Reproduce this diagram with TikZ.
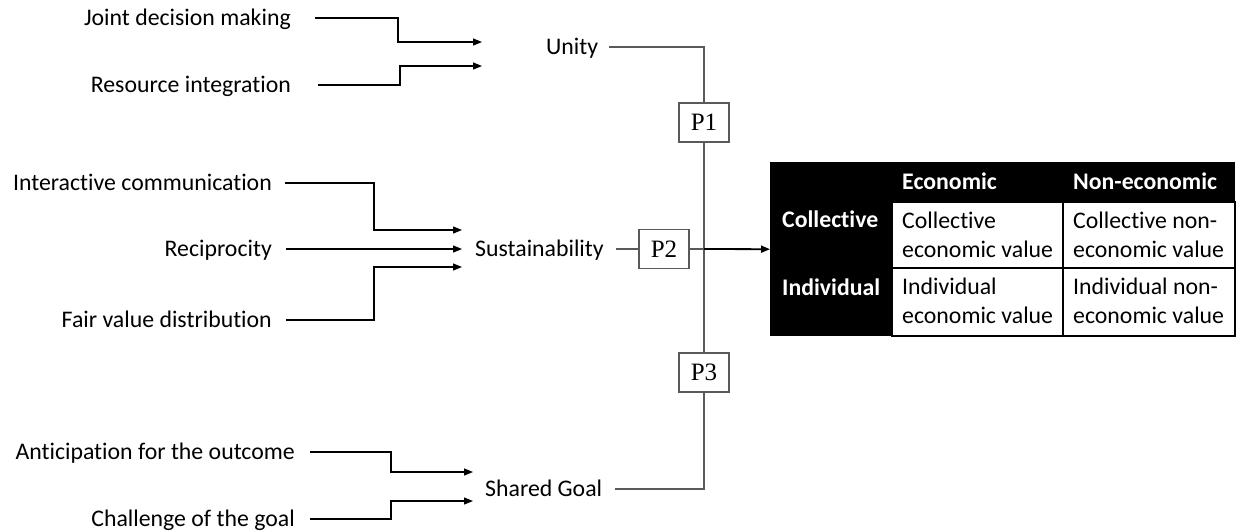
\documentclass[tikz,border=0pt]{standalone}
\usepackage{fontspec}
\setmainfont{Carlito}[Ligatures={NoCommon}]
\newfontfamily\pfont{Liberation Serif}
\usetikzlibrary{arrows.meta}

\begin{document}
\begin{tikzpicture}[x=1pt,y=-1pt,
  lbl/.style={inner sep=0pt, text height=15pt, text depth=0pt,
    font=\fontsize{23.8}{29}\selectfont},
  cell/.style={inner sep=0pt, anchor=base west, align=left,
    font=\fontsize{23.8}{29}\selectfont},
  head/.style={cell, text=white, font=\fontsize{23.8}{29}\selectfont\bfseries},
  pbox/.style={draw=black!65, fill=white, line width=1.2pt, minimum width=50pt,
    minimum height=39pt, inner sep=0pt, font=\pfont\fontsize{25}{28}\selectfont},
  feed/.style={line width=1.2pt, -{Triangle[length=9pt,width=7pt]}},
  link/.style={draw=black!65, line width=1.2pt},
]
\useasboundingbox (0,0) rectangle (1237,531);

% antecedent factors and the three constructs
\node[lbl,anchor=east] (jdm) at (291,18) {Joint decision making};
\node[lbl,anchor=east] (ri)  at (291,85) {Resource integration};
\node[lbl,anchor=west] (unity) at (546,47) {Unity};

\node[lbl,anchor=east] (ic)  at (272,183) {Interactive communication};
\node[lbl,anchor=east] (rec) at (272,249) {Reciprocity};
\node[lbl,anchor=east] (fvd) at (272,320) {Fair value distribution};
\node[lbl,anchor=west] (sus) at (475,249) {Sustainability};

\node[lbl,anchor=east] (ant) at (295,452) {Anticipation for the outcome};
\node[lbl,anchor=east] (chg) at (295,519) {Challenge of the goal};
\node[lbl,anchor=west] (sg)  at (485,489) {Shared Goal};

% arrow ends next to each construct
\coordinate (u1) at (482,42);
\coordinate (u2) at (482,66);
\coordinate (s1) at (462,230);
\coordinate (s2) at (462,249);
\coordinate (s3) at (462,267);
\coordinate (g1) at (473,472);
\coordinate (g2) at (473,501);

\draw[feed] ([xshift=24pt]jdm.east) -| (398,42) -- (u1);
\draw[feed] ([xshift=27pt]ri.east) -| (400,66) -- (u2);
\draw[feed] ([xshift=13pt]ic.east) -| (374,230) -- (s1);
\draw[feed] ([xshift=14pt]rec.east) -- (s2);
\draw[feed] ([xshift=14pt]fvd.east) -| (374,267) -- (s3);
\draw[feed] ([xshift=15pt]ant.east) -| (391,472) -- (g1);
\draw[feed] ([xshift=15pt]chg.east) -| (391,501) -- (g2);

% propositions on the trunk
\node[pbox] (p1) at (704,122.5) {P1};
\node[pbox] (p2) at (664,249) {P2};
\node[pbox] (p3) at (704,372.5) {P3};
\coordinate (j) at (p1.south |- p2.east);

\draw[link] ([xshift=11pt]unity.east) -| (p1.north);
\draw[link] (p1.south) -- (p3.north);
\draw[link] (p3.south) |- ([xshift=13pt]sg.east);
\draw[link] ([xshift=12pt]sus.east) -- (p2.west);
\draw[link] (p2.east) -- (j);

% value matrix
\node[fill=black, inner sep=0pt, minimum width=465pt, minimum height=174pt,
  anchor=north west] (tbl) at (770,162) {};
\filldraw[fill=white, draw=black, line width=1.2pt] (892,202) rectangle (1235,336);
\draw[line width=1.2pt] (1063,202) -- (1063,336) (892,268) -- (1235,268);

\draw[feed, line width=1.8pt] (j) -- (tbl.west);

\node[head] (hec) at (902,189) {Economic};
\node[head] (hne) at (1073,189) {Non-economic};
\node[head] (rco) at (782,227) {Collective};
\node[head] (rin) at (782,295) {Individual};

% two-line cells: the base anchor sits on the last line
\node[cell] (c11) at (902,257) {Collective\\economic value};
\node[cell] (c12) at (1073,257) {Collective non-\\economic value};
\node[cell] (c21) at (902,323) {Individual\\economic value};
\node[cell] (c22) at (1073,323) {Individual non-\\economic value};
\end{tikzpicture}
\end{document}
